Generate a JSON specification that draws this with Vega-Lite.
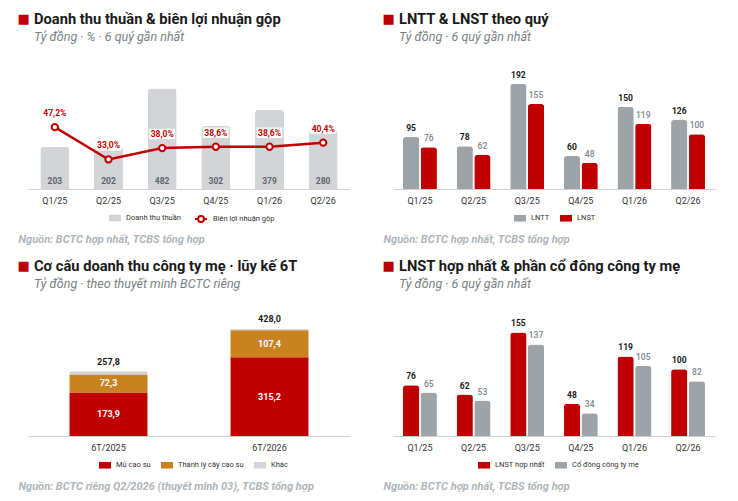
{
  "$schema": "https://vega.github.io/schema/vega-lite/v6.json",
  "background": "white",
  "padding": {"left": 17, "top": 11, "right": 5, "bottom": 5},
  "spacing": 14,
  "datasets": {
    "tot": [
      {"p": "6T/2025", "t": 257.8, "tl": "257,8"},
      {"p": "6T/2026", "t": 428.0, "tl": "428,0"}
    ]
  },
  "resolve": {"scale": {"color": "independent", "stroke": "independent", "xOffset": "independent"}, "legend": {"color": "independent", "stroke": "independent"}},
  "vconcat": [
    {
      "spacing": 32,
      "resolve": {"scale": {"color": "independent", "stroke": "independent", "xOffset": "independent"}, "legend": {"color": "independent", "stroke": "independent"}},
      "hconcat": [
        {
          "width": 322,
          "height": 125,
          "title": {"text": "Doanh thu thuần & biên lợi nhuận gộp", "subtitle": "Tỷ đồng · % · 6 quý gần nhất"},
          "data": {"values": [
            {"q": "Q1/25", "rev": 203, "gm": 47.2, "gml": "47,2%"},
            {"q": "Q2/25", "rev": 202, "gm": 33.0, "gml": "33,0%"},
            {"q": "Q3/25", "rev": 482, "gm": 38.0, "gml": "38,0%"},
            {"q": "Q4/25", "rev": 302, "gm": 38.6, "gml": "38,6%"},
            {"q": "Q1/26", "rev": 379, "gm": 38.6, "gml": "38,6%"},
            {"q": "Q2/26", "rev": 280, "gm": 40.4, "gml": "40,4%"}
          ]},
          "encoding": {
            "x": {"field": "q", "type": "nominal", "sort": null, "scale": {"paddingInner": 0.46, "paddingOuter": 0.23},
                  "axis": {"title": "Nguồn: BCTC hợp nhất, TCBS tổng hợp"}}
          },
          "layer": [
            {
              "layer": [
                {
                  "mark": {"type": "bar", "cornerRadiusTopLeft": 3, "cornerRadiusTopRight": 3},
                  "encoding": {
                    "y": {"field": "rev", "type": "quantitative", "scale": {"domain": [0, 568]}, "axis": {"title": "■"}},
                    "color": {"datum": "Doanh thu thuần", "type": "nominal", "scale": {"range": ["#D2D4D7"]},
                              "legend": {"title": null, "legendX": 81, "legendY": 148}}
                  }
                },
                {
                  "mark": {"type": "text", "baseline": "middle", "dy": -8, "fontSize": 8.5, "fontWeight": "bold", "color": "#5f646a"},
                  "encoding": {
                    "y": {"datum": 0, "type": "quantitative"},
                    "text": {"field": "rev"}
                  }
                }
              ]
            },
            {
              "layer": [
                {
                  "mark": {"type": "line", "strokeWidth": 2.5},
                  "encoding": {
                    "y": {"field": "gm", "type": "quantitative", "scale": {"domain": [20, 74.5]}, "axis": null},
                    "stroke": {"datum": "Biên lợi nhuận gộp", "type": "nominal", "scale": {"range": ["#C00000"]},
                               "legend": {"title": null, "legendX": 166, "legendY": 148, "labelOffset": 5,
                                          "symbolType": "M-1,0L-0.5,0M0.5,0L1,0M0.5,0A0.5,0.5,0,1,1,-0.5,0A0.5,0.5,0,1,1,0.5,0",
                                          "symbolStrokeWidth": 2, "symbolFillColor": "white"}}
                  }
                },
                {
                  "mark": {"type": "point", "filled": true, "fill": "white", "stroke": "#C00000", "strokeWidth": 2, "size": 40, "opacity": 1},
                  "encoding": {"y": {"field": "gm", "type": "quantitative"}}
                },
                {
                  "mark": {"type": "point", "filled": true, "fill": "white", "opacity": 1, "size": 256, "yOffset": -14,
                           "shape": "M-1.6,-0.65L1.6,-0.65L1.6,0.65L-1.6,0.65Z"},
                  "encoding": {"y": {"field": "gm", "type": "quantitative"}}
                },
                {
                  "mark": {"type": "text", "baseline": "middle", "dy": -14, "fontSize": 8.5, "fontWeight": "bold", "color": "#C00000"},
                  "encoding": {"y": {"field": "gm", "type": "quantitative"}, "text": {"field": "gml"}}
                }
              ]
            }
          ],
          "resolve": {"scale": {"y": "independent"}}
        },
        {
          "width": 322,
          "height": 125,
          "title": {"text": "LNTT & LNST theo quý", "subtitle": "Tỷ đồng · 6 quý gần nhất"},
          "data": {"values": [
            {"q": "Q1/25", "s": "LNTT", "v": 95}, {"q": "Q1/25", "s": "LNST", "v": 76},
            {"q": "Q2/25", "s": "LNTT", "v": 78}, {"q": "Q2/25", "s": "LNST", "v": 62},
            {"q": "Q3/25", "s": "LNTT", "v": 192}, {"q": "Q3/25", "s": "LNST", "v": 155},
            {"q": "Q4/25", "s": "LNTT", "v": 60}, {"q": "Q4/25", "s": "LNST", "v": 48},
            {"q": "Q1/26", "s": "LNTT", "v": 150}, {"q": "Q1/26", "s": "LNST", "v": 119},
            {"q": "Q2/26", "s": "LNTT", "v": 126}, {"q": "Q2/26", "s": "LNST", "v": 100}
          ]},
          "encoding": {
            "x": {"field": "q", "type": "nominal", "sort": null, "scale": {"paddingInner": 0.367, "paddingOuter": 0.186},
                  "axis": {"title": "Nguồn: BCTC hợp nhất, TCBS tổng hợp"}},
            "xOffset": {"field": "s", "sort": ["LNTT", "LNST"], "scale": {"paddingInner": 0.08}},
            "y": {"field": "v", "type": "quantitative", "scale": {"domain": [0, 228]}, "axis": {"title": "■"}}
          },
          "layer": [
            {
              "mark": {"type": "bar", "cornerRadiusTopLeft": 3, "cornerRadiusTopRight": 3},
              "encoding": {
                "color": {"field": "s", "type": "nominal", "scale": {"domain": ["LNTT", "LNST"], "range": ["#9EA3A8", "#C00000"]},
                          "legend": {"title": null, "legendX": 121, "legendY": 148}}
              }
            },
            {
              "transform": [{"filter": "datum.s === 'LNTT'"}],
              "mark": {"type": "text", "baseline": "bottom", "dy": -4, "fontSize": 8.5, "fontWeight": "bold", "color": "#1a1a1a"},
              "encoding": {"text": {"field": "v"}}
            },
            {
              "transform": [{"filter": "datum.s === 'LNST'"}],
              "mark": {"type": "text", "baseline": "bottom", "dy": -4, "fontSize": 8.5, "fontWeight": 500, "color": "#7d8590"},
              "encoding": {"text": {"field": "v"}}
            }
          ]
        }
      ]
    },
    {
      "spacing": 32,
      "resolve": {"scale": {"color": "independent", "stroke": "independent", "xOffset": "independent"}, "legend": {"color": "independent", "stroke": "independent"}},
      "hconcat": [
        {
          "width": 322,
          "height": 125,
          "title": {"text": "Cơ cấu doanh thu công ty mẹ · lũy kế 6T", "subtitle": "Tỷ đồng · theo thuyết minh BCTC riêng"},
          "data": {"values": [
            {"p": "6T/2025", "c": "Mủ cao su", "o": 1, "v": 173.9, "l": "173,9"},
            {"p": "6T/2025", "c": "Thanh lý cây cao su", "o": 2, "v": 72.3, "l": "72,3"},
            {"p": "6T/2025", "c": "Khác", "o": 3, "v": 11.6, "l": ""},
            {"p": "6T/2026", "c": "Mủ cao su", "o": 1, "v": 315.2, "l": "315,2"},
            {"p": "6T/2026", "c": "Thanh lý cây cao su", "o": 2, "v": 107.4, "l": "107,4"},
            {"p": "6T/2026", "c": "Khác", "o": 3, "v": 5.4, "l": ""}
          ]},
          "encoding": {
            "x": {"field": "p", "type": "nominal", "sort": null, "scale": {"paddingInner": 0.516, "paddingOuter": 0.258},
                  "axis": {"title": "Nguồn: BCTC riêng Q2/2026 (thuyết minh 03), TCBS tổng hợp"}}
          },
          "layer": [
            {
              "mark": {"type": "bar"},
              "encoding": {
                "y": {"field": "v", "type": "quantitative", "stack": "zero", "scale": {"domain": [0, 496]}, "axis": {"title": "■"}},
                "order": {"field": "o"},
                "color": {"field": "c", "type": "nominal",
                          "scale": {"domain": ["Mủ cao su", "Thanh lý cây cao su", "Khác"], "range": ["#C00000", "#C8821E", "#D2D4D7"]},
                          "legend": {"title": null, "legendX": 71, "legendY": 148}}
              }
            },
            {
              "transform": [
                {"stack": "v", "groupby": ["p"], "sort": [{"field": "o"}], "as": ["v0", "v1"]},
                {"calculate": "(datum.v0 + datum.v1) / 2", "as": "mid"}
              ],
              "mark": {"type": "text", "baseline": "middle", "fontSize": 9, "fontWeight": "bold", "color": "white"},
              "encoding": {"y": {"field": "mid", "type": "quantitative"}, "text": {"field": "l"}}
            },
            {
              "data": {"name": "tot"},
              "mark": {"type": "text", "baseline": "bottom", "dy": -5, "fontSize": 9, "fontWeight": "bold", "color": "#1a1a1a"},
              "encoding": {"y": {"field": "t", "type": "quantitative"}, "text": {"field": "tl"}}
            }
          ]
        },
        {
          "width": 322,
          "height": 125,
          "title": {"text": "LNST hợp nhất & phần cổ đông công ty mẹ", "subtitle": "Tỷ đồng · 6 quý gần nhất"},
          "data": {"values": [
            {"q": "Q1/25", "s": "LNST hợp nhất", "v": 76}, {"q": "Q1/25", "s": "Cổ đông công ty mẹ", "v": 65},
            {"q": "Q2/25", "s": "LNST hợp nhất", "v": 62}, {"q": "Q2/25", "s": "Cổ đông công ty mẹ", "v": 53},
            {"q": "Q3/25", "s": "LNST hợp nhất", "v": 155}, {"q": "Q3/25", "s": "Cổ đông công ty mẹ", "v": 137},
            {"q": "Q4/25", "s": "LNST hợp nhất", "v": 48}, {"q": "Q4/25", "s": "Cổ đông công ty mẹ", "v": 34},
            {"q": "Q1/26", "s": "LNST hợp nhất", "v": 119}, {"q": "Q1/26", "s": "Cổ đông công ty mẹ", "v": 105},
            {"q": "Q2/26", "s": "LNST hợp nhất", "v": 100}, {"q": "Q2/26", "s": "Cổ đông công ty mẹ", "v": 82}
          ]},
          "encoding": {
            "x": {"field": "q", "type": "nominal", "sort": null, "scale": {"paddingInner": 0.367, "paddingOuter": 0.186},
                  "axis": {"title": "Nguồn: BCTC hợp nhất, TCBS tổng hợp"}},
            "xOffset": {"field": "s", "sort": ["LNST hợp nhất", "Cổ đông công ty mẹ"], "scale": {"paddingInner": 0.08}},
            "y": {"field": "v", "type": "quantitative", "scale": {"domain": [0, 187]}, "axis": {"title": "■"}}
          },
          "layer": [
            {
              "mark": {"type": "bar", "cornerRadiusTopLeft": 3, "cornerRadiusTopRight": 3},
              "encoding": {
                "color": {"field": "s", "type": "nominal", "scale": {"domain": ["LNST hợp nhất", "Cổ đông công ty mẹ"], "range": ["#C00000", "#9EA3A8"]},
                          "legend": {"title": null, "legendX": 85, "legendY": 148}}
              }
            },
            {
              "transform": [{"filter": "datum.s === 'LNST hợp nhất'"}],
              "mark": {"type": "text", "baseline": "bottom", "dy": -4, "fontSize": 8.5, "fontWeight": "bold", "color": "#1a1a1a"},
              "encoding": {"text": {"field": "v"}}
            },
            {
              "transform": [{"filter": "datum.s === 'Cổ đông công ty mẹ'"}],
              "mark": {"type": "text", "baseline": "bottom", "dy": -4, "fontSize": 8.5, "fontWeight": 500, "color": "#7d8590"},
              "encoding": {"text": {"field": "v"}}
            }
          ]
        }
      ]
    }
  ],
  "config": {
    "font": "Roboto",
    "view": {"stroke": null},
    "title": {"anchor": "start", "frame": "group", "dx": 6, "offset": -31, "fontSize": 14.7, "fontWeight": "bold", "color": "#1a1a1a",
              "subtitleFontSize": 12.5, "subtitleFontStyle": "italic", "subtitleColor": "#7a7f85", "subtitlePadding": 4},
    "axisX": {"domainColor": "#cfd2d6", "ticks": false, "labelFontSize": 9, "labelColor": "#333333", "labelPadding": 7, "labelAngle": 0, "grid": false,
              "titleFontSize": 11, "titleFontStyle": "italic", "titleFontWeight": "bold", "titleColor": "#b0b5ba",
              "titleX": -10, "titleY": 50, "titleAlign": "left", "titleBaseline": "middle", "titleAnchor": "start"},
    "axisY": {"domain": false, "ticks": false, "labels": false, "grid": false, "titleAngle": 0, "titleX": -11, "titleY": -46,
              "titleAlign": "left", "titleBaseline": "middle", "titleColor": "#C00000", "titleFont": "DejaVu Sans", "titleFontSize": 13, "titleFontWeight": "normal"},
    "legend": {"orient": "none", "direction": "horizontal", "labelFontSize": 7.5, "labelColor": "#333333", "symbolType": "M-1,-0.55h2v1.1h-2z",
               "symbolSize": 144, "symbolStrokeWidth": 0, "columnPadding": 10, "labelOffset": 5}
  }
}
